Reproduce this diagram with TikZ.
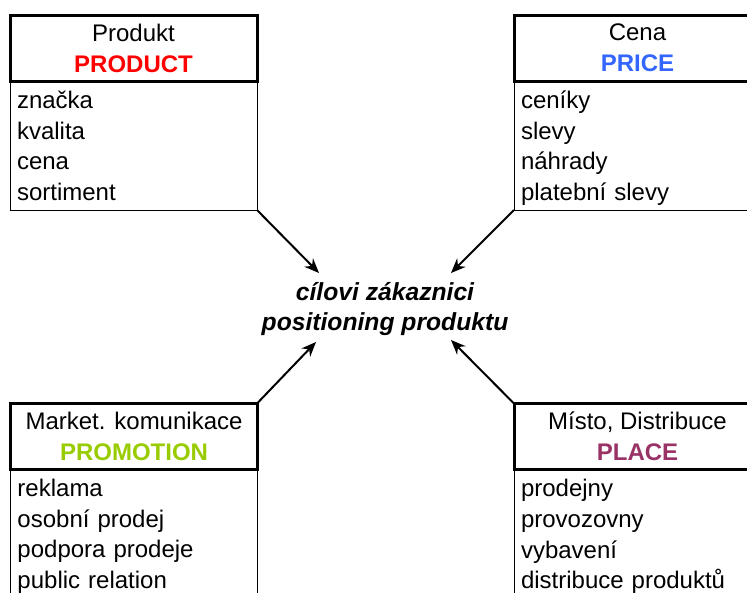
\documentclass[tikz,border=0pt]{standalone}
\usepackage{fontspec}
\setmainfont{Liberation Sans}
\usetikzlibrary{positioning,arrows.meta}
\definecolor{prodred}{RGB}{255,0,0}
\definecolor{priceblue}{RGB}{51,102,255}
\definecolor{promogreen}{RGB}{153,204,0}
\definecolor{placeplum}{RGB}{153,51,102}
\newcommand{\topstrut}{\rule{0pt}{19.6pt}}
\newcommand{\botstrut}{\rule[-6.15pt]{0pt}{6.15pt}}
\tikzstyle{head}=[draw, line width=2.25pt, outer sep=0pt, inner sep=0pt, minimum width=185.25pt, minimum height=49.5pt, align=center, font=\fontsize{18}{23.25}\selectfont]
\tikzstyle{body}=[draw, line width=0.75pt, outer sep=0pt, inner xsep=5.25pt, inner ysep=1pt, minimum width=185.25pt, minimum height=96.75pt, text width=174.75pt, align=left, font=\fontsize{18}{23}\selectfont]
\tikzstyle{arr}=[-{Stealth[length=11pt, width=9pt]}, line width=1.5pt]

\begin{document}
\begin{tikzpicture}[x=0.75pt, y=-0.75pt]
		\useasboundingbox (0,0) rectangle (747,593);
		\clip (0,0) rectangle (747,593);
		\node[head] (prodhead) at (133.5, 48) {Produkt\\\textbf{\color{prodred}PRODUCT}};
		\node[body, below=0pt of prodhead] (prodbody) {\topstrut značka\\kvalita\\cena\\sortiment\botstrut};
		\node[head] (pricehead) at (637.5, 48) {Cena\\\textbf{\color{priceblue}PRICE}};
		\node[body, below=0pt of pricehead] (pricebody) {\topstrut ceníky\\slevy\\náhrady\\platební slevy\botstrut};
		\node[head] (promohead) at (134, 436) {Market. komunikace\\\textbf{\color{promogreen}PROMOTION}};
		\node[body, below=0pt of promohead] (promobody) {\topstrut reklama\\osobní prodej\\podpora prodeje\\public relation\botstrut};
		\node[head] (placehead) at (637.5, 436.5) {Místo, Distribuce\\\textbf{\color{placeplum}PLACE}};
		\node[body, below=0pt of placehead] (placebody) {\topstrut prodejny\\provozovny\\vybavení\\distribuce produktů\botstrut};
		\node[align=center, font=\fontsize{18.5}{22.5}\selectfont\bfseries\itshape] (target) at (385, 309) {cílovi zákaznici\\positioning produktu};
		\coordinate (tipprod) at (319, 273);
		\coordinate (tipprice) at (451, 273);
		\coordinate (tippromo) at (316, 342);
		\coordinate (tipplace) at (451, 340);
		\draw[arr] (prodbody.south east) -- (tipprod);
		\draw[arr] (pricebody.south west) -- (tipprice);
		\draw[arr] (promohead.north east) -- (tippromo);
		\draw[arr] (placehead.north west) -- (tipplace);
	\end{tikzpicture}
\end{document}
